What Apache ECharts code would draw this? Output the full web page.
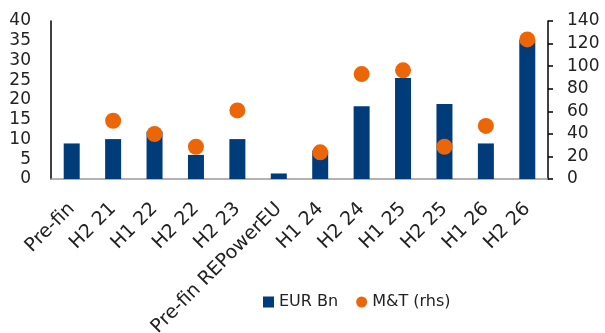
<!DOCTYPE html>
<html><head><meta charset="utf-8">
<script src="https://cdn.jsdelivr.net/npm/echarts@6/dist/echarts.min.js"></script>
<style>html,body{margin:0;padding:0;background:#fff}#c{width:605px;height:333px}</style>
</head><body><div id="c"></div>
<script>
const categories = ["Pre-fin","H2 21","H1 22","H2 22","H2 23","Pre-fin REPowerEU","H1 24","H2 24","H1 25","H2 25","H1 26","H2 26"];
const eurBn = [9.0,10.1,12.0,6.1,10.1,1.4,7.2,18.4,25.6,19.0,9.0,35.2];
const mtRhs = [null,51.6,39.9,28.6,60.8,null,23.6,93,96.3,28.6,47,123.7];
const leftTicks = [0,5,10,15,20,25,30,35,40];
const rightTicks = [0,20,40,60,80,100,120,140];

const FONT = "DejaVu Sans";
const chart = echarts.init(document.getElementById('c'));
chart.setOption({
  animation:false,
  textStyle:{fontFamily:FONT},
  grid:{left:51,right:57,top:21,bottom:154,containLabel:false,outerBoundsMode:'none'},
  legend:{
    left:258,top:289,itemWidth:11,itemHeight:11,itemGap:18,
    textStyle:{fontFamily:FONT,fontSize:16,color:'#222'},
    data:[{name:'EUR Bn',icon:'rect'},{name:'M&T (rhs)',icon:'circle'}]
  },
  xAxis:{
    type:'category',data:categories,
    axisLine:{lineStyle:{color:'#999',width:1.5}},
    axisTick:{show:false},
    axisLabel:{rotate:45,interval:0,fontFamily:FONT,fontSize:19,color:'#222',margin:27}
  },
  yAxis:[{
    type:'value',min:leftTicks[0],max:leftTicks[leftTicks.length-1],interval:5,
    axisLine:{show:true,lineStyle:{color:'#000',width:1.5}},
    axisTick:{show:false},splitLine:{show:false},
    axisLabel:{fontFamily:FONT,fontSize:17,color:'#222',margin:20}
  },{
    type:'value',min:rightTicks[0],max:rightTicks[rightTicks.length-1],interval:20,position:'right',
    axisLine:{show:true,lineStyle:{color:'#000',width:1.5}},
    axisTick:{show:true,length:5,lineStyle:{color:'#000',width:1.5}},splitLine:{show:false},
    axisLabel:{fontFamily:FONT,fontSize:17,color:'#222',margin:19}
  }],
  series:[{
    name:'EUR Bn',type:'bar',data:eurBn,barWidth:16,
    itemStyle:{color:'#003B7A'}
  },{
    name:'M&T (rhs)',type:'scatter',yAxisIndex:1,data:mtRhs,symbolSize:16,
    itemStyle:{color:'#EC6608',opacity:1}
  }]
});
</script></body></html>
